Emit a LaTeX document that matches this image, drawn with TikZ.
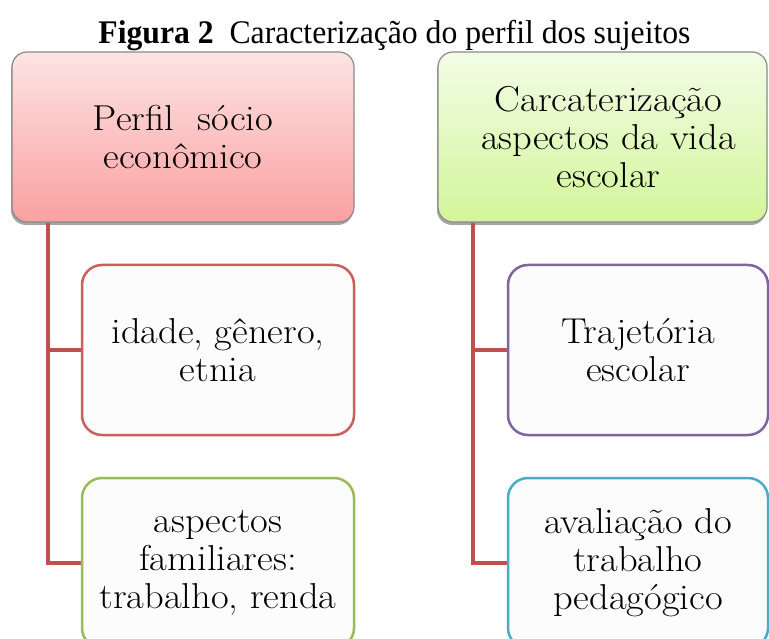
\documentclass[tikz,border=0pt]{standalone}
\usepackage{fontspec}
\newfontfamily\titlefont{Liberation Serif}
\newfontfamily\boxfont[FakeStretch=1.07]{Latin Modern Roman}
\usetikzlibrary{shadows}
\definecolor{conn}{HTML}{C0504D}
\definecolor{redb}{HTML}{C9605D}
\definecolor{greenb}{HTML}{9BBB59}
\definecolor{purpleb}{HTML}{8064A2}
\definecolor{blueb}{HTML}{4BACC6}
\definecolor{pinktop}{HTML}{FDE4E4}
\definecolor{pinkbot}{HTML}{FBA0A0}
\definecolor{greentop}{HTML}{F2FDE6}
\definecolor{greenbot}{HTML}{D3F59A}
\definecolor{headb}{HTML}{8A8A8A}
\definecolor{innerfill}{HTML}{FCFCFC}
\tikzset{
  x=1pt, y=-1pt,
  boxtext/.style={align=center, font=\boxfont\fontsize{36}{38}\selectfont, inner sep=0pt},
  headbox/.style={boxtext, rectangle, rounded corners=15pt, draw=headb, line width=1.2pt,
     drop shadow={shadow xshift=-1pt, shadow yshift=-3pt, opacity=.35, fill=black}},
  itembox/.style={boxtext, rectangle, rounded corners=20pt, line width=2.5pt, fill=innerfill,
     minimum width=272pt, minimum height=170pt},
  connline/.style={draw=conn, line width=4pt},
}
\begin{document}
\begin{tikzpicture}
\useasboundingbox (0,0) rectangle (769,639);
\clip (0,0) rectangle (769,639);
\fill[white] (0,0) rectangle (769,639);

% title
\node[anchor=base, inner sep=0pt, font=\titlefont\fontsize{33}{33}\selectfont] (title) at (394.5,44)
  {\scalebox{0.96}[1]{\textbf{Figura 2}\ \ Caracterização do perfil dos sujeitos}};

% connectors (drawn first, boxes cover their ends)
\coordinate (lv) at (48,222);
\coordinate (rv) at (473,222);

% head boxes
\node[headbox, top color=pinktop, bottom color=pinkbot, minimum width=342pt, minimum height=170pt]
  (h1) at (183,137) {Perfil\ \ sócio\\econômico};
\node[headbox, top color=greentop, bottom color=greenbot, minimum width=329pt, minimum height=170pt]
  (h2) at (602.5,137) {\hspace*{12pt}Carcaterização\\\hspace*{12pt}aspectos da vida\\\hspace*{12pt}escolar};

\path (h1.south -| lv) coordinate (lvt);
\path (h2.south -| rv) coordinate (rvt);

% item boxes positions
\path (218,350) coordinate (a1c) (218,563) coordinate (a2c) (638,350) coordinate (b1c) (638,563) coordinate (b2c);

\draw[connline] (lvt) |- ([xshift=-1pt]a1c -| 82,0);
\draw[connline] (lvt) |- ([xshift=-1pt]a2c -| 82,0);
\draw[connline] (rvt) |- ([xshift=-1pt]b1c -| 508,0);
\draw[connline] (rvt) |- ([xshift=-1pt]b2c -| 508,0);

\node[itembox, draw=redb] (a1) at (a1c) {idade, gênero,\\etnia};
\node[itembox, draw=greenb] (a2) at (a2c) {aspectos\\familiares:\\trabalho, renda};
\node[itembox, draw=purpleb, minimum width=260pt] (b1) at (b1c) {Trajetória\\escolar};
\node[itembox, draw=blueb, minimum width=260pt] (b2) at (b2c) {avaliação do\\trabalho\\pedagógico};
\end{tikzpicture}
\end{document}
